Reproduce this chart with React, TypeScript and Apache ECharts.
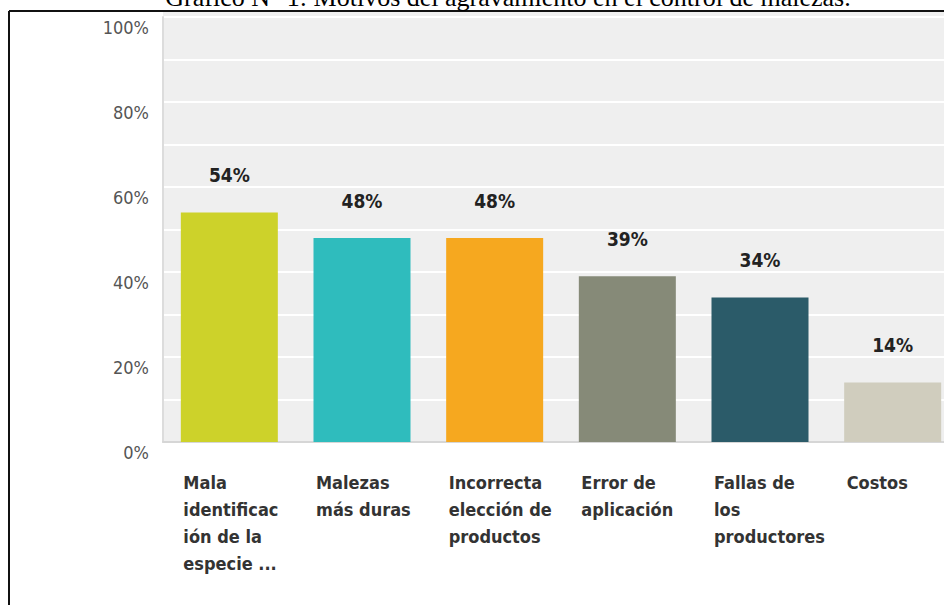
import React, { useEffect, useRef } from "react";
import * as echarts from "echarts";

const titleText = "Gráfico N° 1: Motivos del agravamiento en el control de malezas.";
const categoryLines: string[][] = [
  ["Mala", "identificac", "ión de la", "especie ..."],
  ["Malezas", "más duras"],
  ["Incorrecta", "elección de", "productos"],
  ["Error de", "aplicación"],
  ["Fallas de", "los", "productores"],
  ["Costos"],
];
const categories = categoryLines.map((l) => l.join("\n"));
const values = [54, 48, 48, 39, 34, 14];
const barColors = ["#cdd22a", "#2fbcbd", "#f6a81f", "#868a78", "#2b5b69", "#d0cdbe"];
const yTicks = [0, 20, 40, 60, 80, 100];

const NARROW = "'Liberation Sans Narrow', 'DejaVu Sans Condensed', 'Arial Narrow', Arial, sans-serif";

export default function App() {
  const ref = useRef<HTMLDivElement>(null);
  useEffect(() => {
    if (!ref.current) return;
    const chart = echarts.init(ref.current, null, { renderer: "svg" });
    chart.setOption({
      animation: false,
      backgroundColor: "#ffffff",
      grid: {
        left: 163,
        right: -15,
        top: 17,
        bottom: 163,
        containLabel: false,
        outerBoundsMode: "none",
      },
      graphic: [
        {
          type: "rect",
          z: -10,
          silent: true,
          shape: { x: 163, y: 12, width: 800, height: 430 },
          style: { fill: "#efefef" },
        },
        {
          type: "line",
          z: 100,
          shape: { x1: 9, y1: 11, x2: 944, y2: 11 },
          style: { stroke: "#111", lineWidth: 2 },
        },
        {
          type: "line",
          z: 100,
          shape: { x1: 9, y1: 11, x2: 9, y2: 605 },
          style: { stroke: "#111", lineWidth: 2 },
        },
        {
          type: "text",
          z: 100,
          x: 508,
          y: 10,
          style: {
            text: titleText,
            fill: "#000",
            font: "26px 'Liberation Serif', 'Times New Roman', serif",
            textAlign: "center",
            textVerticalAlign: "bottom",
          },
        },
      ],
      xAxis: {
        type: "category",
        data: categories,
        axisTick: { show: false },
        axisLine: { show: true, lineStyle: { color: "#d6d6d6", width: 2 } },
        axisLabel: {
          interval: 0,
          margin: 27,
          formatter: (v: string) =>
            v
              .split("\n")
              .map((s) => "{a|" + s + "}")
              .join("\n"),
          rich: {
            a: {
              width: 92,
              align: "left",
              fontFamily: NARROW,
              fontWeight: "bold",
              fontSize: 18,
              lineHeight: 27,
              color: "#333",
            },
          },
        },
      },
      yAxis: {
        type: "value",
        min: 0,
        max: 100,
        interval: 10,
        axisTick: { show: false },
        axisLine: { show: true, lineStyle: { color: "#dcdcdc", width: 2 } },
        splitLine: { show: true, lineStyle: { color: "#ffffff", width: 2 } },
        axisLabel: {
          margin: 14,
          verticalAlign: "top",
          lineHeight: 20,
          color: "#555",
          fontFamily: NARROW,
          fontSize: 18,
          formatter: (v: number) => (yTicks.indexOf(v) >= 0 ? v + "%" : ""),
        },
      },
      series: [
        {
          type: "bar",
          data: values.map((v, i) => ({ value: v, itemStyle: { color: barColors[i] } })),
          barWidth: 97,
          label: {
            show: true,
            position: "top",
            distance: 28,
            formatter: "{c}%",
            fontFamily: NARROW,
            fontWeight: "bold",
            fontSize: 19,
            color: "#222",
          },
        },
      ],
    });
    return () => chart.dispose();
  }, []);
  return (
    <div style={{ position: "fixed", left: 0, top: 0, width: 944, height: 605, overflow: "hidden", background: "#fff" }}>
      <div ref={ref} style={{ width: 944, height: 605 }} />
    </div>
  );
}
